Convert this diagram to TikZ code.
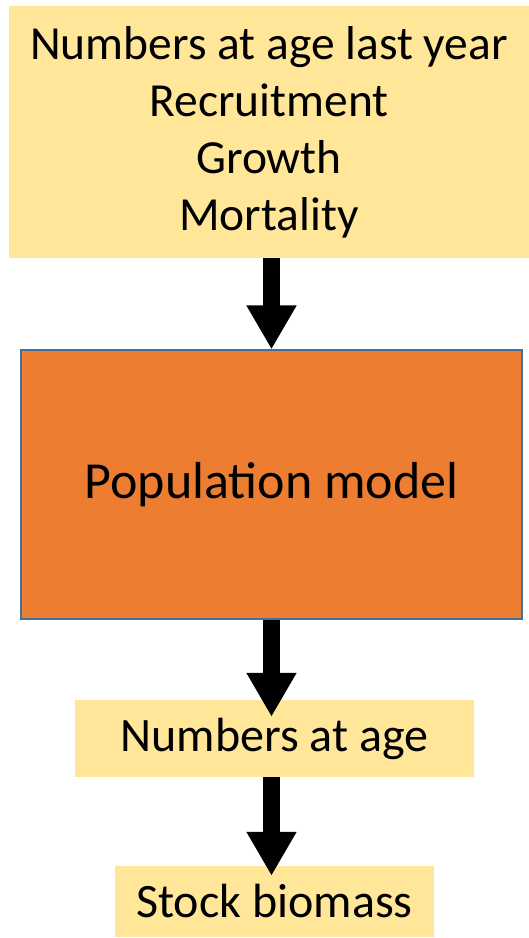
\documentclass[tikz,border=0pt]{standalone}
\usepackage{fontspec}
\setmainfont{Carlito}
\usetikzlibrary{arrows.meta,positioning}
\definecolor{boxyellow}{HTML}{FFE699}
\definecolor{modelorange}{HTML}{ED7D31}
\definecolor{edgeblue}{HTML}{41719C}

\begin{document}
\begin{tikzpicture}[x=1pt,y=-1pt,
inbox/.style={fill=boxyellow,inner sep=0pt,align=center,font=\fontsize{48}{57}\selectfont},
flow/.style={line width=17pt,-{Triangle[width=47pt,length=44pt]}}]
\useasboundingbox (0,0) rectangle (529,938);
%boxes
\node[inbox,minimum width=520pt,minimum height=252pt,font=\fontsize{47.5}{57}\selectfont](inputs) at (269,132){Numbers at age last year\\Recruitment\\Growth\\Mortality};
\node[fill=modelorange,draw=edgeblue,line width=1.2pt,minimum width=501pt,minimum height=269pt,font=\fontsize{52}{60}\selectfont](model) at (271.5,484.5){Population model};
\node[inbox,minimum width=399pt,minimum height=77pt](age) at (274.5,738.5){Numbers at age};
\node[inbox,minimum width=319pt,minimum height=71pt](biomass) at (274.5,901.5){Stock biomass};
%arrows
\draw[flow](inputs.south -| model.north)--(model.north);
\draw[flow,shorten >=-17pt](model.south)--(age.north -| model.south);
\draw[flow,shorten >=-10pt](age.south -| model.south)--(biomass.north -| model.south);
\end{tikzpicture}
\end{document}
